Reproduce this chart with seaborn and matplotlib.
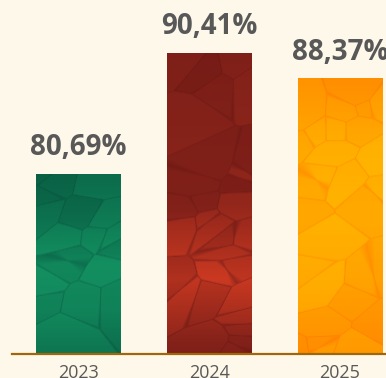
"""Textured bar chart of yearly percentages."""
import matplotlib
matplotlib.use("Agg")
import matplotlib.pyplot as plt
import numpy as np
import seaborn as sns
from matplotlib.colors import LinearSegmentedColormap

YEARS = ["2023", "2024", "2025"]
VALUES = [80.69, 90.41, 88.37]
LABELS = ["80,69%", "90,41%", "88,37%"]

BG = "#FEF8EA"
TEXT = "#585858"
BASE = "#A0660A"
BAR_COLORS = ["#108A5C", "#8A2216", "#FF9A00"]
# dark -> mid -> light tones used for the stained-glass texture
BAR_TONES = [
    ["#053F2F", "#0C6E4D", "#17A06A"],
    ["#5A100D", "#84221A", "#D43C22"],
    ["#FF5E00", "#FF9200", "#FFC400"],
]
# vertical brightness profile (top -> bottom) for each bar
PROFILES = [
    [0.40, 0.55, 0.78, 0.72, 0.50],
    [0.40, 0.45, 0.50, 0.85, 0.45],
    [0.50, 0.72, 0.80, 0.68, 0.50],
]


def _hash(k, a, b):
    return np.mod(np.sin(k * a + b) * 43758.5453, 1.0)


def cell_texture(nx, ny, profile, phase):
    n_seeds = max(8, int(nx * ny / 800))
    k = np.arange(n_seeds)
    sx = _hash(k, 12.9898, phase) * nx
    sy = _hash(k, 78.233, phase * 1.7) * ny
    yy, xx = np.mgrid[0:ny, 0:nx].astype(float)
    dx = xx[..., None] - sx
    dy = yy[..., None] - sy
    c, s = np.cos(-0.4), np.sin(-0.4)
    u = dx * c + dy * s
    v = -dx * s + dy * c
    d = np.sqrt((u / 1.4) ** 2 + v ** 2)
    part = np.partition(d, 1, axis=-1)
    edge = np.clip((part[..., 1] - part[..., 0]) / 1.6, 0, 1)
    cell = np.argmin(d, axis=-1)
    shade = _hash(cell.astype(float), 3.713, phase) - 0.5
    grad = np.interp(yy / ny, np.linspace(0, 1, len(profile)), profile)
    t = grad + 0.18 * shade
    t = t * (0.7 + 0.3 * edge)
    return np.clip(t, 0, 1)


plt.rcParams["font.family"] = ["Open Sans", "DejaVu Sans"]

fig = plt.figure(figsize=(3.86, 3.78), dpi=100, facecolor=BG)
ax = fig.add_axes([12 / 386, 24 / 378, 374 / 386, 354 / 378])
ax.set_facecolor(BG)

sns.barplot(x=YEARS, y=VALUES, hue=YEARS, palette=BAR_COLORS, legend=False,
            width=0.645, saturation=1, ax=ax)

ymin, ymax = 66.17, 94.67
ax.set_xlim(-0.506, 2.351)
ax.set_ylim(ymin, ymax)

bars = sorted(ax.patches, key=lambda p: p.get_x())
for i, (bar, tones, prof) in enumerate(zip(bars, BAR_TONES, PROFILES)):
    x0, w, top = bar.get_x(), bar.get_width(), bar.get_height()
    ny = int((top - ymin) / (ymax - ymin) * 354)
    tex = cell_texture(85, ny, prof, phase=1.3 + i * 2.1)
    cmap = LinearSegmentedColormap.from_list(f"tex{i}", tones)
    im = ax.imshow(tex, cmap=cmap, vmin=0, vmax=1, aspect="auto",
                   extent=[x0, x0 + w, ymin, top], origin="upper",
                   interpolation="bilinear", zorder=bar.get_zorder() + 0.1)
    im.set_clip_path(bar)

ax.set_xlim(-0.506, 2.351)
ax.set_ylim(ymin, ymax)

for i, (v, lab) in enumerate(zip(VALUES, LABELS)):
    ax.annotate(lab, xy=(i, v), xytext=(0, 13.5), textcoords="offset points",
                ha="center", va="baseline", fontsize=20, fontweight="bold",
                color=TEXT, annotation_clip=False)

for side in ["top", "right", "left"]:
    ax.spines[side].set_visible(False)
ax.spines["bottom"].set_color(BASE)
ax.spines["bottom"].set_linewidth(1.6)
ax.spines["bottom"].set_zorder(5)
ax.set_yticks([])
ax.set_xlabel("")
ax.set_ylabel("")
ax.tick_params(axis="x", length=0, pad=7.5, labelsize=12.9, labelcolor=TEXT)

fig.savefig("out.png", dpi=100, facecolor=BG)
